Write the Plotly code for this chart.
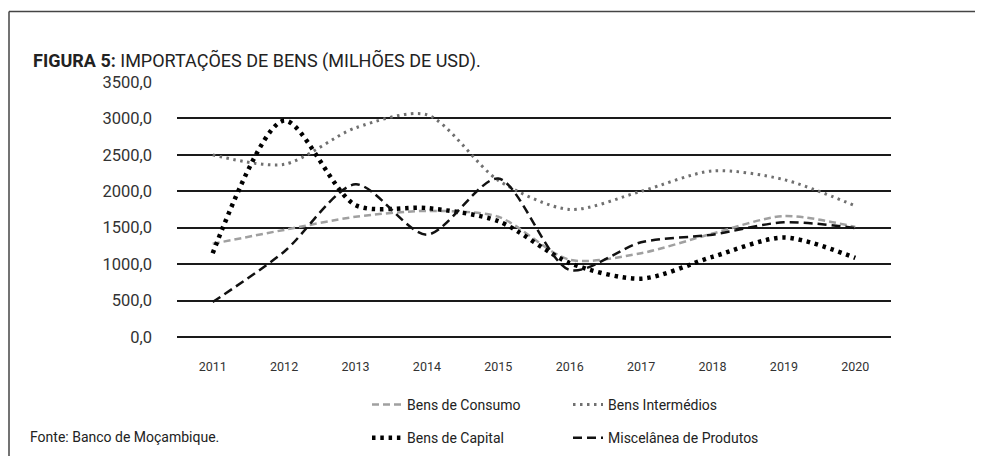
import plotly.graph_objects as go

years = ["2011", "2012", "2013", "2014", "2015", "2016", "2017", "2018", "2019", "2020"]
consumo = [1280, 1470, 1650, 1730, 1650, 1060, 1150, 1420, 1660, 1510]
intermedios = [2500, 2370, 2870, 3050, 2150, 1750, 2000, 2280, 2160, 1800]
capital = [1150, 2970, 1810, 1770, 1590, 1015, 800, 1100, 1365, 1085]
miscelanea = [480, 1170, 2095, 1405, 2175, 920, 1300, 1405, 1575, 1495]
y_ticks = [0, 500, 1000, 1500, 2000, 2500, 3000, 3500]
y_tick_labels = ["0,0", "500,0", "1000,0", "1500,0", "2000,0", "2500,0", "3000,0", "3500,0"]

FONT = "Roboto, DejaVu Sans, sans-serif"
W, H = 983, 456
L, R, T, B = 169, 100, 74, 127
pw, ph = W - L - R, H - T - B

def px(x):
    return (x - L) / pw

def py(y):
    return (H - B - y) / ph

fig = go.Figure()
fig.add_trace(go.Scatter(x=years, y=consumo, name="Bens de Consumo", mode="lines",
                         line=dict(color="#a0a0a0", width=2.5, dash="7px,4px", shape="spline", smoothing=0.8),
                         legend="legend", legendgroup="a"))
fig.add_trace(go.Scatter(x=years, y=intermedios, name="Bens Intermédios", mode="lines",
                         line=dict(color="#707070", width=3, dash="2.5px,4.5px", shape="spline", smoothing=0.8),
                         legend="legend2", legendgroup="b"))
fig.add_trace(go.Scatter(x=years, y=capital, name="Bens de Capital", mode="lines",
                         line=dict(color="#000000", width=4.5, dash="3.5px,4.8px", shape="spline", smoothing=0.8),
                         legend="legend", legendgroup="c"))
fig.add_trace(go.Scatter(x=years, y=miscelanea, name="Miscelânea de Produtos", mode="lines",
                         line=dict(color="#111111", width=2.5, dash="9px,5px", shape="spline", smoothing=0.8),
                         legend="legend2", legendgroup="d"))

legend_common = dict(orientation="v", font=dict(family=FONT, size=14, color="#222"),
                     bgcolor="rgba(0,0,0,0)", traceorder="grouped", tracegroupgap=12,
                     xanchor="left", yanchor="top", itemwidth=30,
                     xref="container", yref="container")
fig.update_layout(
    width=W, height=H,
    margin=dict(l=L, r=R, t=T, b=B, pad=0, autoexpand=False),
    paper_bgcolor="white", plot_bgcolor="white",
    font=dict(family=FONT, size=13, color="#333"),
    title=dict(text="<b>FIGURA 5:</b> IMPORTAÇÕES DE BENS (MILHÕES DE USD).",
               x=25 / W, xref="container", xanchor="left", y=1 - 53 / H, yref="container", yanchor="middle",
               font=dict(family=FONT, size=18, color="#222")),
    xaxis=dict(type="category", range=[-0.5, len(years) - 0.5], showgrid=False, showline=False, ticks="",
               tickfont=dict(size=12.5, color="#333"), ticklabelstandoff=20, fixedrange=True),
    yaxis=dict(range=[0, 3500], tickvals=y_ticks, ticktext=y_tick_labels, showgrid=True,
               gridcolor="#1a1a1a", gridwidth=1.5, zeroline=True, zerolinecolor="#1a1a1a",
               zerolinewidth=1.5, showline=False, ticks="",
               tickfont=dict(size=16.5, color="#333"), ticklabelstandoff=24, fixedrange=True),
    legend=dict(x=359 / W, y=1 - 381 / H, **legend_common),
    legend2=dict(x=560 / W, y=1 - 381 / H, **legend_common),
    showlegend=True,
)

fig.add_annotation(text="Fonte: Banco de Moçambique.", xref="paper", yref="paper",
                   x=px(20), y=py(429), xanchor="left", yanchor="middle", showarrow=False,
                   font=dict(family=FONT, size=14, color="#222"))

# figure frame (top and left edges)
fig.add_shape(type="line", xref="paper", yref="paper", x0=px(1), x1=px(983), y0=py(3.5), y1=py(3.5),
              line=dict(color="#444", width=1.5))
fig.add_shape(type="line", xref="paper", yref="paper", x0=px(1), x1=px(1), y0=py(3.5), y1=py(456),
              line=dict(color="#444", width=1.5))

fig.write_html("out.html")
